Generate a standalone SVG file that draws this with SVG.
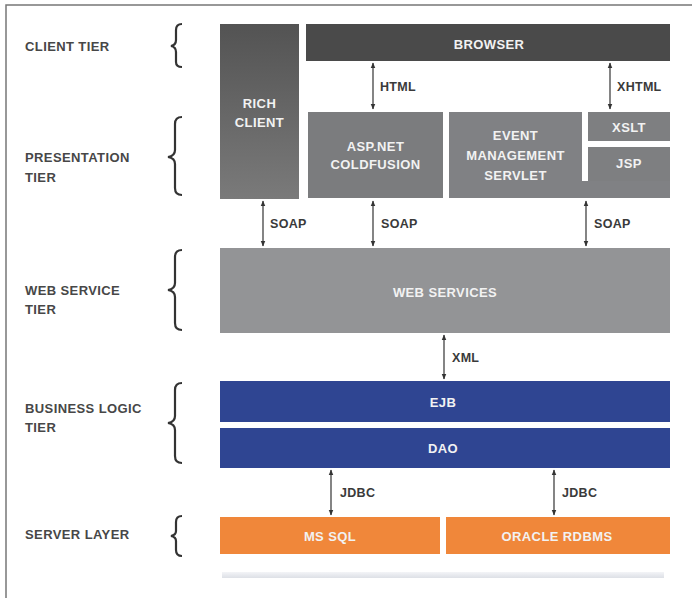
<svg xmlns="http://www.w3.org/2000/svg" width="692" height="598" viewBox="0 0 692 598">
<defs>
<style>
.lbl{font-family:"Liberation Sans",Arial,sans-serif;font-weight:bold;font-size:13px;letter-spacing:0.4px;fill:#474747}
.bt{font-family:"Liberation Sans",Arial,sans-serif;font-weight:bold;font-size:13px;letter-spacing:0.4px;fill:#f2f2f2;text-anchor:middle}
.ct{font-family:"Liberation Sans",Arial,sans-serif;font-weight:bold;font-size:12.5px;letter-spacing:0.3px;fill:#3a3a3a}
.br{fill:none;stroke:#333;stroke-width:2.2}
.ar{stroke:#333;stroke-width:1.2;fill:none;marker-start:url(#ah);marker-end:url(#ah)}
</style>
<marker id="ah" viewBox="0 0 10 10" refX="9" refY="5" markerWidth="6" markerHeight="6" orient="auto-start-reverse" markerUnits="userSpaceOnUse"><path d="M0,1 L10,5 L0,9 Z" fill="#333"/></marker>
<linearGradient id="rc" x1="0" y1="0" x2="0" y2="1"><stop offset="0" stop-color="#535353"/><stop offset="1" stop-color="#7a7a7a"/></linearGradient>
<linearGradient id="sh" x1="0" y1="0" x2="0" y2="1"><stop offset="0" stop-color="#f3f4f7"/><stop offset="1" stop-color="#dde0e6"/></linearGradient>
</defs>
<rect x="0" y="0" width="692" height="598" fill="#fff"/>
<path d="M6,598 V5 H692" fill="none" stroke="#777" stroke-width="1.5"/>

<g id="tier-labels">
<text class="lbl" x="25" y="51">CLIENT TIER</text>
<text class="lbl" x="25" y="162">PRESENTATION</text>
<text class="lbl" x="25" y="182">TIER</text>
<text class="lbl" x="25" y="295">WEB SERVICE</text>
<text class="lbl" x="25" y="314">TIER</text>
<text class="lbl" x="25" y="413">BUSINESS LOGIC</text>
<text class="lbl" x="25" y="432">TIER</text>
<text class="lbl" x="25" y="539">SERVER LAYER</text>
<path class="br" d="M182,24 Q176,24 176,30 V40 Q176,45 171,46 Q176,47 176,52 V62 Q176,67 182,67"/>
<path class="br" d="M182,117 Q175,117 175,124 V150 Q175,156 168,157 Q175,158 175,164 V188 Q175,195 182,195"/>
<path class="br" d="M182,250 Q175,250 175,257 V283 Q175,289 168,290 Q175,291 175,297 V323 Q175,330 182,330"/>
<path class="br" d="M182,383 Q175,383 175,390 V416 Q175,422 168,423 Q175,424 175,430 V456 Q175,463 182,463"/>
<path class="br" d="M182,516 Q176,516 176,522 V531 Q176,535 171,536 Q176,537 176,541 V550 Q176,556 182,556"/>
</g>

<g id="rich-client"><rect x="220" y="24" width="79" height="175" fill="url(#rc)"/><text class="bt" x="259.5" y="108">RICH</text><text class="bt" x="259.5" y="127">CLIENT</text></g>
<g id="browser"><rect x="306" y="24" width="364" height="37" fill="#4a4a4a"/><text class="bt" x="489" y="49">BROWSER</text></g>
<g id="aspnet"><rect x="308" y="112" width="135" height="86" fill="#7b7c7e"/><text class="bt" x="375.5" y="151">ASP.NET</text><text class="bt" x="375.5" y="169">COLDFUSION</text></g>
<g id="event-servlet"><path d="M449,112 H582 V181 H670 V198 H449 Z" fill="#808184"/><text class="bt" x="515.5" y="140">EVENT</text><text class="bt" x="515.5" y="160">MANAGEMENT</text><text class="bt" x="515.5" y="180">SERVLET</text></g>
<g id="xslt"><rect x="588" y="112" width="82" height="29" fill="#7e7f81"/><text class="bt" x="629" y="132">XSLT</text></g>
<g id="jsp"><rect x="588" y="147" width="82" height="34" fill="#7e7f81"/><text class="bt" x="629" y="168">JSP</text></g>
<g id="web-services"><rect x="220" y="248" width="450" height="85" fill="#939496"/><text class="bt" x="445" y="297">WEB SERVICES</text></g>
<g id="ejb"><rect x="220" y="381" width="450" height="41" fill="#2f4592"/><text class="bt" x="443" y="407">EJB</text></g>
<g id="dao"><rect x="220" y="428" width="450" height="40" fill="#2f4592"/><text class="bt" x="443" y="453">DAO</text></g>
<g id="ms-sql"><rect x="220" y="517" width="220" height="37" fill="#f0873a"/><text class="bt" x="330" y="541">MS SQL</text></g>
<g id="oracle"><rect x="446" y="517" width="224" height="37" fill="#f0873a"/><text class="bt" x="557" y="541">ORACLE RDBMS</text></g>
<rect x="222" y="572" width="442" height="6" fill="url(#sh)"/>

<g id="connectors">
<line class="ar" x1="373" y1="63" x2="373" y2="109"/><text class="ct" x="380" y="91">HTML</text>
<line class="ar" x1="610" y1="63" x2="610" y2="109"/><text class="ct" x="617" y="91">XHTML</text>
<line class="ar" x1="263" y1="201" x2="263" y2="246"/><text class="ct" x="270" y="228">SOAP</text>
<line class="ar" x1="373" y1="201" x2="373" y2="246"/><text class="ct" x="381" y="228">SOAP</text>
<line class="ar" x1="586" y1="201" x2="586" y2="246"/><text class="ct" x="594" y="228">SOAP</text>
<line class="ar" x1="444" y1="335" x2="444" y2="379"/><text class="ct" x="452" y="362">XML</text>
<line class="ar" x1="331" y1="470" x2="331" y2="515"/><text class="ct" x="340" y="497">JDBC</text>
<line class="ar" x1="554" y1="470" x2="554" y2="515"/><text class="ct" x="562" y="497">JDBC</text>
</g>
</svg>
